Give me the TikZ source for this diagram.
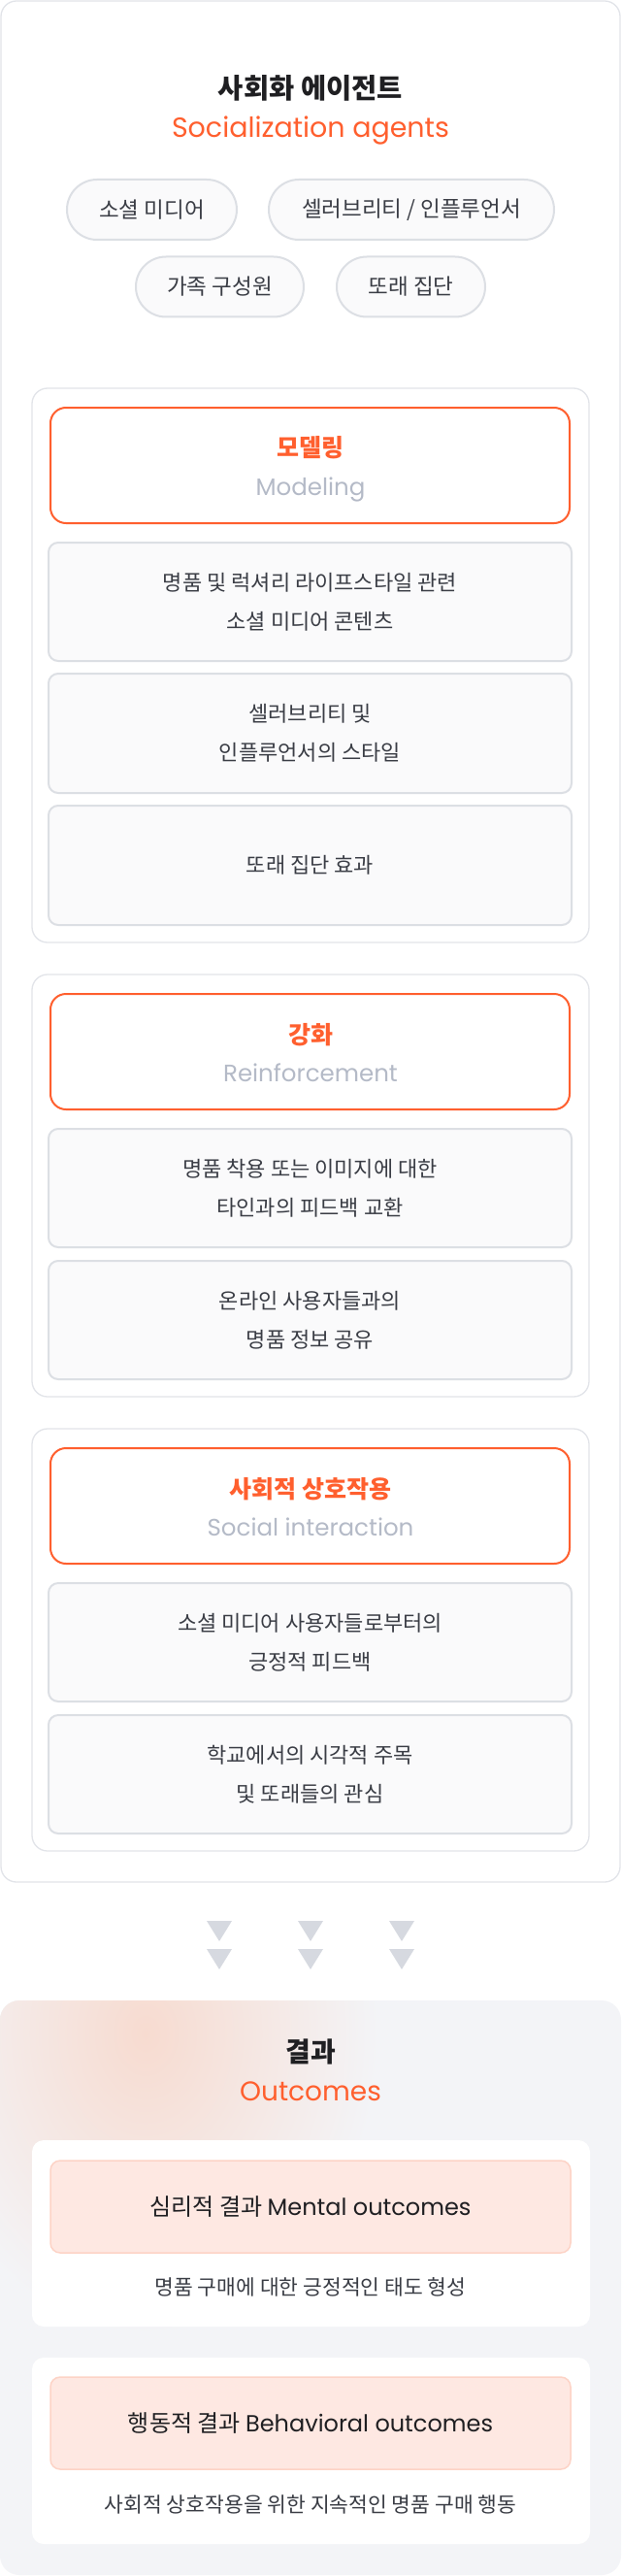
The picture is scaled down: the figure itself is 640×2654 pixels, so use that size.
\documentclass[tikz,border=0pt]{standalone}
\usepackage{fontspec}
\setmainfont{Noto Sans CJK KR}
\newfontfamily\kr{Noto Sans CJK KR}
\newfontfamily\lat{Poppins}
\newcommand\fsz[2]{\fontsize{#1}{#2}\selectfont}
\definecolor{orng}{HTML}{FF5F2E}
\definecolor{subgray}{HTML}{B4BAC7}
\definecolor{ink}{HTML}{1F1F22}
\definecolor{bodyink}{HTML}{3A3D45}
\definecolor{lineg}{HTML}{E2E4E9}
\definecolor{itemline}{HTML}{DCDFE4}
\definecolor{itemfill}{HTML}{FAFAFB}
\definecolor{trig}{HTML}{D6D9E0}
\definecolor{outbase}{HTML}{F3F4F7}
\definecolor{glow}{HTML}{F7DBD0}
\definecolor{pinkfill}{HTML}{FEE8E2}
\definecolor{pinkline}{HTML}{FDD3C6}
\begin{document}
\begin{tikzpicture}[x=1pt,y=-1pt,
  outerbox/.style={draw=lineg,line width=1.3pt,fill=white,rounded corners=16pt,inner sep=0pt},
  container/.style={draw=lineg,line width=1.3pt,fill=white,rounded corners=16pt,inner sep=0pt},
  headbox/.style={draw=orng,line width=2pt,fill=white,rounded corners=16pt,inner sep=0pt},
  item/.style={draw=itemline,line width=2pt,fill=itemfill,rounded corners=10pt,inner sep=0pt,
    align=center,text=bodyink,font=\kr\fsz{22}{40}},
  pill/.style={draw=itemline,line width=2pt,fill=itemfill,rounded corners=31pt,inner sep=0pt,
    minimum height=62pt,text=bodyink,font=\kr\fsz{22.5}{26}},
  headk/.style={anchor=base,text=orng,font=\kr\bfseries\fsz{25}{30}},
  heade/.style={anchor=base,text=subgray,font=\lat\fsz{24.5}{30}},
  card/.style={fill=white,rounded corners=12pt,inner sep=0pt},
  pinkbox/.style={draw=pinkline,line width=1.5pt,fill=pinkfill,rounded corners=10pt,inner sep=0pt,
    text=ink,font=\fsz{24}{30}},
  body/.style={text=bodyink,font=\kr\fsz{21.5}{25}}
]
\useasboundingbox (0,0) rectangle (640,2654);
\fill[white] (0,0) rectangle (640,2654);

% ===== Socialization agents =====
\node[outerbox,minimum width=638pt,minimum height=1938pt] (agents) at (320,970) {};
\node[anchor=base,text=ink,font=\kr\bfseries\fsz{28.5}{34}] (title) at (320,102) {사회화 에이전트};
\node[anchor=base,text=orng,font=\lat\fsz{28.5}{34}] (titlee) at (320,142) {Socialization agents};

\node[pill,minimum width=175pt] (p1) at (156.5,216) {소셜 미디어};
\node[pill,minimum width=294pt] (p2) at (424,216) {셀러브리티 / 인플루언서};
\node[pill,minimum width=173pt] (p3) at (226.5,295.5) {가족 구성원};
\node[pill,minimum width=153pt] (p4) at (423.5,295.5) {또래 집단};

% ===== Modeling =====
\node[container,minimum width=574pt,minimum height=571pt] (cm) at (320,685.5) {};
\node[headbox,minimum width=535pt,minimum height=119pt] (hm) at (319.5,479.5) {};
\node[headk] (hmk) at (320,470) {모델링};
\node[heade] (hme) at (320,510) {Modeling};
\node[item,minimum width=539pt,minimum height=122pt] (m1) at (319.5,620) {명품 및 럭셔리 라이프스타일 관련\\소셜 미디어 콘텐츠};
\node[item,minimum width=539pt,minimum height=123pt] (m2) at (319.5,755.5) {셀러브리티 및\\인플루언서의 스타일};
\node[item,minimum width=539pt,minimum height=123pt] (m3) at (319.5,891.5) {또래 집단 효과};

% ===== Reinforcement =====
\node[container,minimum width=574pt,minimum height=435pt] (cr) at (320,1221.5) {};
\node[headbox,minimum width=535pt,minimum height=119pt] (hr) at (319.5,1083.5) {};
\node[headk] (hrk) at (320,1075) {강화};
\node[heade] (hre) at (320,1114) {Reinforcement};
\node[item,minimum width=539pt,minimum height=122pt] (r1) at (319.5,1224) {명품 착용 또는 이미지에 대한\\타인과의 피드백 교환};
\node[item,minimum width=539pt,minimum height=122pt] (r2) at (319.5,1360) {온라인 사용자들과의\\명품 정보 공유};

% ===== Social interaction =====
\node[container,minimum width=574pt,minimum height=435pt] (cs) at (320,1689.5) {};
\node[headbox,minimum width=535pt,minimum height=119pt] (hs) at (319.5,1551.5) {};
\node[headk] (hsk) at (320,1543) {사회적 상호작용};
\node[heade] (hse) at (320,1582) {Social interaction};
\node[item,minimum width=539pt,minimum height=122pt] (s1) at (319.5,1692) {소셜 미디어 사용자들로부터의\\긍정적 피드백};
\node[item,minimum width=539pt,minimum height=122pt] (s2) at (319.5,1828) {학교에서의 시각적 주목\\및 또래들의 관심};

% ===== Arrows (triangles) =====
\foreach \cx in {226,320,414}{
  \fill[trig] (\cx-13,1979) -- (\cx+13,1979) -- (\cx,2000) -- cycle;
  \fill[trig] (\cx-13,2008) -- (\cx+13,2008) -- (\cx,2029) -- cycle;
}

% ===== Outcomes =====
\node[fill=outbase,rounded corners=20pt,inner sep=0pt,minimum width=640pt,minimum height=592pt] (outc) at (320,2357) {};
\begin{scope}
  \clip[rounded corners=20pt] (0,2061) rectangle (640,2653);
  \shade[inner color=glow,outer color=outbase] (150,2095) ellipse [x radius=240pt,y radius=310pt];
\end{scope}
\node[anchor=base,text=ink,font=\kr\bfseries\fsz{28}{34}] (outk) at (320,2124) {결과};
\node[anchor=base,text=orng,font=\lat\fsz{28}{34}] (oute) at (320,2164) {Outcomes};

\node[card,minimum width=575pt,minimum height=192pt] (card1) at (320.5,2301) {};
\node[pinkbox,minimum width=536pt,minimum height=95pt] (o1) at (320,2273.5) {{\kr 심리적 결과} {\lat Mental outcomes}};
\node[body] (o1t) at (320,2356) {명품 구매에 대한 긍정적인 태도 형성};

\node[card,minimum width=575pt,minimum height=192pt] (card2) at (320.5,2525) {};
\node[pinkbox,minimum width=536pt,minimum height=95pt] (o2) at (320,2496.5) {{\kr 행동적 결과} {\lat Behavioral outcomes}};
\node[body] (o2t) at (320,2580) {사회적 상호작용을 위한 지속적인 명품 구매 행동};
\end{tikzpicture}
\end{document}
